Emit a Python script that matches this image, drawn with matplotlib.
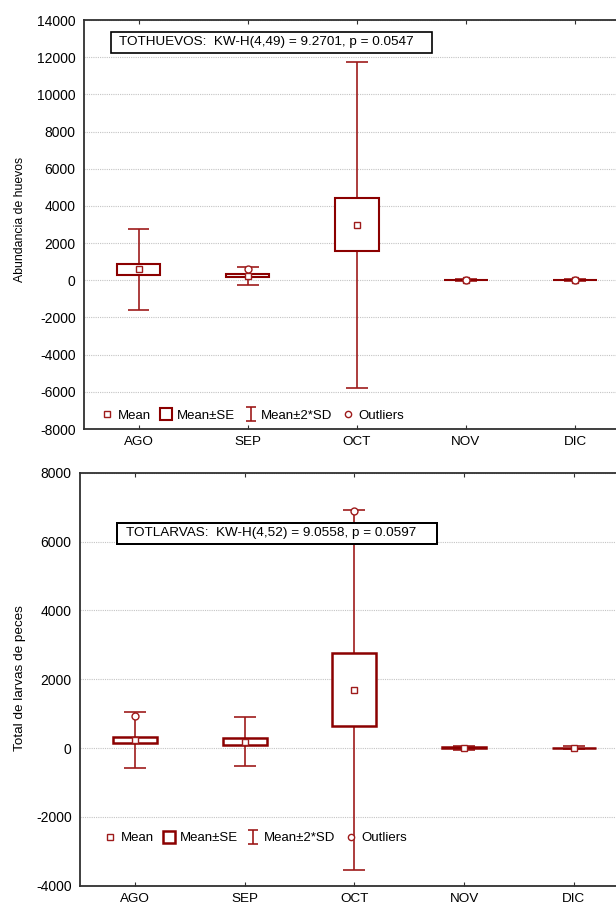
import matplotlib
matplotlib.use("Agg")
import matplotlib.pyplot as plt
from matplotlib.lines import Line2D
from matplotlib.patches import Rectangle
from matplotlib.path import Path

plt.rcParams['font.family'] = ['Liberation Sans', 'DejaVu Sans']
plt.rcParams['axes.unicode_minus'] = False

months = ["AGO", "SEP", "OCT", "NOV", "DIC"]

# Top panel: egg abundance
huevos_mean = [590, 240, 2980, 30, 20]
huevos_se = [290, 90, 1420, 4, 3]
huevos_sd = [1090, 250, 4375, 30, 20]
huevos_out_x = ["SEP", "NOV", "DIC"]
huevos_out_y = [600, 40, 30]
huevos_stat = "TOTHUEVOS:  KW-H(4,49) = 9.2701, p = 0.0547"
huevos_ylabel = "Abundancia de huevos"
huevos_yticks = [-8000, -6000, -4000, -2000, 0, 2000, 4000, 6000, 8000, 10000, 12000, 14000]

# Bottom panel: fish larvae
larvas_mean = [225, 188, 1690, 10, 5]
larvas_se = [92, 96, 1060, 6, 4]
larvas_sd = [404, 361, 2614, 30, 20]
larvas_out_x = ["AGO", "OCT"]
larvas_out_y = [920, 6880]
larvas_stat = "TOTLARVAS:  KW-H(4,52) = 9.0558, p = 0.0597"
larvas_ylabel = "Total de larvas de peces"
larvas_yticks = [-4000, -2000, 0, 2000, 4000, 6000, 8000]

BOX = '#8b0000'
WHISK = '#9e1b1b'
SPINE = '#303030'

fig = plt.figure(figsize=(6.16, 9.07), dpi=100)

whisk_marker = Path([(-0.7, 1), (0.7, 1), (0, 1), (0, -1), (-0.7, -1), (0.7, -1)],
                    [Path.MOVETO, Path.LINETO, Path.MOVETO, Path.LINETO, Path.MOVETO, Path.LINETO])


def panel(ax, mean, se, sd, out_x, out_y, stat, ylabel, yticks, box_rect, text_xy,
          leg_xy, ylab_xy, ylab_size, box_lw):
    x = list(range(len(months)))
    ax.set_xlim(-0.5, len(months) - 0.5)
    ax.set_ylim(yticks[0], yticks[-1])
    ax.set_yticks(yticks)
    ax.set_xticks(x)
    ax.set_xticklabels(months)
    ax.yaxis.grid(True, linestyle=(0, (1, 1)), color='#c4c4c4', linewidth=0.8, zorder=0)
    ax.set_axisbelow(True)
    for s in ['left', 'bottom', 'top']:
        ax.spines[s].set_color(SPINE)
        ax.spines[s].set_linewidth(1.3)
    ax.spines['right'].set_visible(False)
    ax.tick_params(axis='x', direction='in', length=3, top=True, bottom=True,
                   labelsize=9.7, pad=5, color=SPINE)
    ax.tick_params(axis='y', length=0, labelsize=10, pad=6)

    lo_se = [m - s for m, s in zip(mean, se)]
    hi_se = [m + s for m, s in zip(mean, se)]
    lo_sd = [m - 2 * d for m, d in zip(mean, sd)]
    hi_sd = [m + 2 * d for m, d in zip(mean, sd)]

    ax.vlines(x, hi_se, hi_sd, color=WHISK, linewidth=1.2, zorder=3)
    ax.vlines(x, lo_sd, lo_se, color=WHISK, linewidth=1.2, zorder=3)
    ax.hlines(hi_sd, [xi - 0.1 for xi in x], [xi + 0.1 for xi in x], color=WHISK, linewidth=1.2, zorder=3)
    ax.hlines(lo_sd, [xi - 0.1 for xi in x], [xi + 0.1 for xi in x], color=WHISK, linewidth=1.2, zorder=3)
    ax.bar(x, [h - l for h, l in zip(hi_se, lo_se)], bottom=lo_se, width=0.4,
           facecolor='white', edgecolor=BOX, linewidth=box_lw, zorder=4)
    ax.plot(x, mean, linestyle='none', marker='s', markersize=5, mfc='white',
            mec=WHISK, mew=1.0, zorder=6)
    ax.plot([months.index(m) for m in out_x], out_y, linestyle='none', marker='o',
            markersize=5, mfc='white', mec=WHISK, mew=1.0, zorder=7)

    # statistics box
    x0, y0, w, h = box_rect
    ax.add_patch(Rectangle((x0, y0), w, h, transform=ax.transAxes, facecolor='white',
                           edgecolor='black', linewidth=box_lw * 0.8, zorder=8, clip_on=False))
    ax.text(text_xy[0], text_xy[1], stat, transform=ax.transAxes, ha='left', va='center',
            fontsize=9.7, zorder=9)

    handles = [
        Line2D([], [], linestyle='none', marker='s', markersize=4.5, mfc='white', mec=WHISK, mew=1.0),
        Line2D([], [], linestyle='none', marker='s', markersize=8, mfc='white', mec=BOX, mew=box_lw),
        Line2D([], [], linestyle='none', marker=whisk_marker, markersize=10.5, mfc='none', mec=WHISK, mew=1.2),
        Line2D([], [], linestyle='none', marker='o', markersize=4.5, mfc='white', mec=WHISK, mew=1.0),
    ]
    ax.legend(handles, ["Mean", "Mean\u00b1SE", "Mean\u00b12*SD", "Outliers"], ncol=4,
              loc='center left', bbox_to_anchor=leg_xy, frameon=False, borderaxespad=0,
              borderpad=0, handlelength=1.0, handletextpad=0.29, columnspacing=0.68,
              fontsize=9.5)

    ax.set_ylabel(ylabel, fontsize=ylab_size, va='center')
    ax.yaxis.set_label_coords(*ylab_xy)


ax1 = fig.add_axes([84 / 616, 478 / 907, 545.5 / 616, 409 / 907])
panel(ax1, huevos_mean, huevos_se, huevos_sd, huevos_out_x, huevos_out_y, huevos_stat,
      huevos_ylabel, huevos_yticks,
      box_rect=(0.04895, 0.9200, 0.5896, 0.0513), text_xy=(0.0642, 0.9457),
      leg_xy=(0.0306, 0.0318), ylab_xy=(-0.1173, 0.5134), ylab_size=8.8, box_lw=1.5)

ax2 = fig.add_axes([80 / 616, 21.3 / 907, 548.75 / 616, 413 / 907])
panel(ax2, larvas_mean, larvas_se, larvas_sd, larvas_out_x, larvas_out_y, larvas_stat,
      larvas_ylabel, larvas_yticks,
      box_rect=(0.0680, 0.8266, 0.5831, 0.0523), text_xy=(0.0838, 0.8528),
      leg_xy=(0.0426, 0.1148), ylab_xy=(-0.1093, 0.503), ylab_size=9.7, box_lw=1.8)

fig.savefig("out.png", dpi=100)
